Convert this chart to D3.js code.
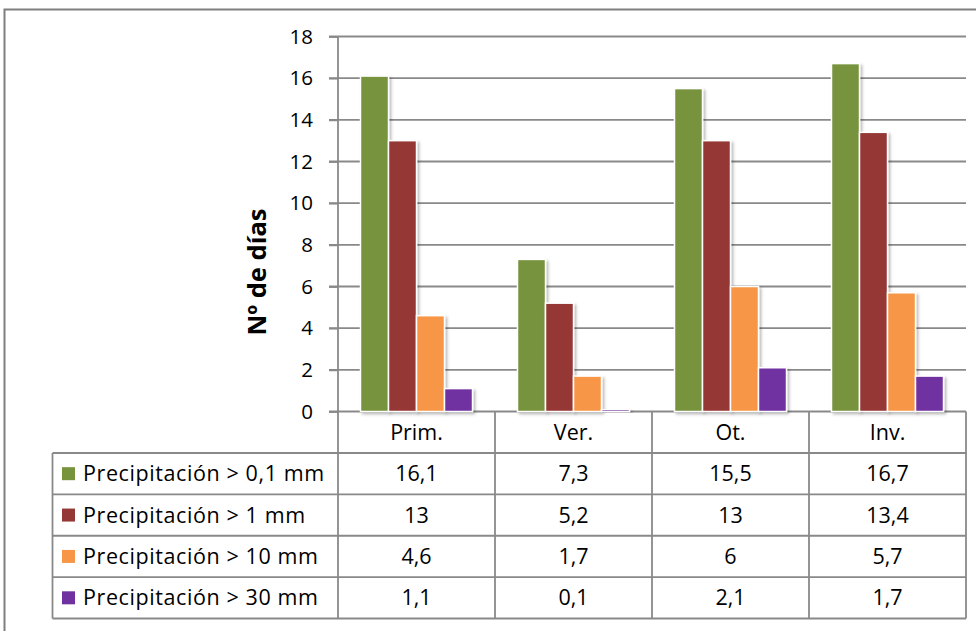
<!DOCTYPE html>
<html>
<head>
<meta charset="utf-8">
<script src="https://cdn.jsdelivr.net/npm/d3@7"></script>
<style>
  html, body { margin: 0; padding: 0; background: #fff; }
  svg { display: block; }
  text { font-family: "Open Sans", "Noto Sans", sans-serif; fill: #000; }
</style>
</head>
<body>
<svg id="chart" width="976" height="631"></svg>
<script>
// Seasons and precipitation thresholds
const seasons = ["Prim.", "Ver.", "Ot.", "Inv."];
const seriesNames = [
  "Precipitación > 0,1 mm",
  "Precipitación > 1 mm",
  "Precipitación > 10 mm",
  "Precipitación > 30 mm"
];
// Number of days per season
const gt01 = [16.1, 7.3, 15.5, 16.7];
const gt1 = [13, 5.2, 13, 13.4];
const gt10 = [4.6, 1.7, 6, 5.7];
const gt30 = [1.1, 0.1, 2.1, 1.7];
const yTicks = [0, 2, 4, 6, 8, 10, 12, 14, 16, 18];
const colors = ["#77933C", "#953735", "#F79646", "#7030A0"];

const seriesValues = [gt01, gt1, gt10, gt30];
const fmt = v => String(v).replace(".", ",");
const FS = "21.5px";

const svg = d3.select("#chart");

// drop shadow for bars
const defs = svg.append("defs");
const f = defs.append("filter").attr("id", "shadow")
  .attr("x", "-20%").attr("y", "-20%").attr("width", "150%").attr("height", "150%");
f.append("feDropShadow").attr("dx", 2).attr("dy", 2).attr("stdDeviation", 1.6)
  .attr("flood-color", "#000").attr("flood-opacity", 0.28);

// outer frame
svg.append("rect").attr("x", 4.5).attr("y", 9.5).attr("width", 990).attr("height", 640)
  .attr("fill", "none").attr("stroke", "#7f7f7f").attr("stroke-width", 2);

const plotLeft = 338, plotRight = 966;
const x0 = d3.scaleBand().domain(seasons).range([plotLeft, plotRight]);
const groupPad = 22.5;
const x1 = d3.scaleBand().domain(seriesNames).range([groupPad, x0.bandwidth() - groupPad]);
const y = d3.scaleLinear().domain([0, 18]).range([411.5, 36.5]);

const gridColor = "#898989";

// gridlines
svg.append("g").selectAll("line").data(yTicks).join("line")
  .attr("x1", plotLeft - 9).attr("x2", plotRight)
  .attr("y1", d => y(d)).attr("y2", d => y(d))
  .attr("stroke", gridColor).attr("stroke-width", 1.8);

// y axis
const yAxis = svg.append("g").attr("transform", `translate(${plotLeft},0)`)
  .call(d3.axisLeft(y).tickValues(yTicks).tickSize(9).tickPadding(16).tickFormat(d => d));
yAxis.select(".domain").remove();
yAxis.selectAll(".tick line").attr("stroke", gridColor).attr("stroke-width", 1.8);
yAxis.selectAll(".tick text").style("font-size", "20.5px").attr("fill", "#000")
  .style("font-family", "'Open Sans', sans-serif");

// axis title
svg.append("text")
  .attr("transform", "translate(266,272) rotate(-90)")
  .attr("text-anchor", "middle")
  .style("font-size", "25.5px").style("font-weight", "bold")
  .text("Nº de días");

// bars
const groups = svg.append("g").selectAll("g").data(seasons).join("g")
  .attr("transform", d => `translate(${x0(d)},0)`);
groups.selectAll("rect")
  .data((s, i) => seriesNames.map((n, k) => ({ n, k, v: seriesValues[k][i] })))
  .join("rect")
  .attr("x", d => x1(d.n))
  .attr("width", x1.bandwidth())
  .attr("y", d => y(d.v))
  .attr("height", d => y(0) - y(d.v))
  .attr("fill", d => colors[d.k])
  .attr("stroke", "#fff").attr("stroke-width", 1.5)
  .attr("filter", "url(#shadow)");

// data table
const tableTop = y(0), headerH = 41.5, tableBottom = 618.5, legendLeft = 52.5;
const rowY = d3.scaleBand().domain(seriesNames).range([tableTop + headerH, tableBottom]);
const lineStyle = sel => sel.attr("stroke", gridColor).attr("stroke-width", 1.8);
const tbl = svg.append("g");

// vertical axis line through plot and table
tbl.append("line").attr("x1", plotLeft).attr("x2", plotLeft)
  .attr("y1", y(18)).attr("y2", tableBottom).call(lineStyle);
// category dividers
tbl.selectAll("line.cat").data(seasons).join("line").attr("class", "cat")
  .attr("x1", d => x0(d) + x0.bandwidth()).attr("x2", d => x0(d) + x0.bandwidth())
  .attr("y1", tableTop).attr("y2", tableBottom).call(lineStyle);
// legend column left edge
tbl.append("line").attr("x1", legendLeft).attr("x2", legendLeft)
  .attr("y1", rowY(seriesNames[0])).attr("y2", tableBottom).call(lineStyle);
// horizontal row lines
tbl.selectAll("line.row").data(seriesNames).join("line").attr("class", "row")
  .attr("x1", legendLeft).attr("x2", plotRight)
  .attr("y1", d => rowY(d)).attr("y2", d => rowY(d)).call(lineStyle);
tbl.append("line").attr("x1", legendLeft).attr("x2", plotRight)
  .attr("y1", tableBottom).attr("y2", tableBottom).call(lineStyle);

// header labels
tbl.selectAll("text.hdr").data(seasons).join("text").attr("class", "hdr")
  .attr("x", d => x0(d) + x0.bandwidth() / 2)
  .attr("y", tableTop + headerH / 2)
  .attr("dy", "0.35em").attr("text-anchor", "middle")
  .style("font-size", FS).text(d => d);

// legend keys and names
const rows = tbl.selectAll("g.r").data(seriesNames).join("g").attr("class", "r")
  .attr("transform", d => `translate(0,${rowY(d) + rowY.bandwidth() / 2})`);
rows.append("rect").attr("x", 62).attr("y", -6.5).attr("width", 13).attr("height", 13)
  .attr("fill", (d, i) => colors[i]);
rows.append("text").attr("x", 83).attr("dy", "0.35em")
  .style("font-size", FS).style("letter-spacing", "0.6px").text(d => d);

// values
rows.each(function (n, k) {
  d3.select(this).selectAll("text.v").data(seasons).join("text").attr("class", "v")
    .attr("x", s => x0(s) + x0.bandwidth() / 2).attr("dy", "0.35em")
    .attr("text-anchor", "middle").style("font-size", FS)
    .text((s, i) => fmt(seriesValues[k][i]));
});
</script>
</body>
</html>
